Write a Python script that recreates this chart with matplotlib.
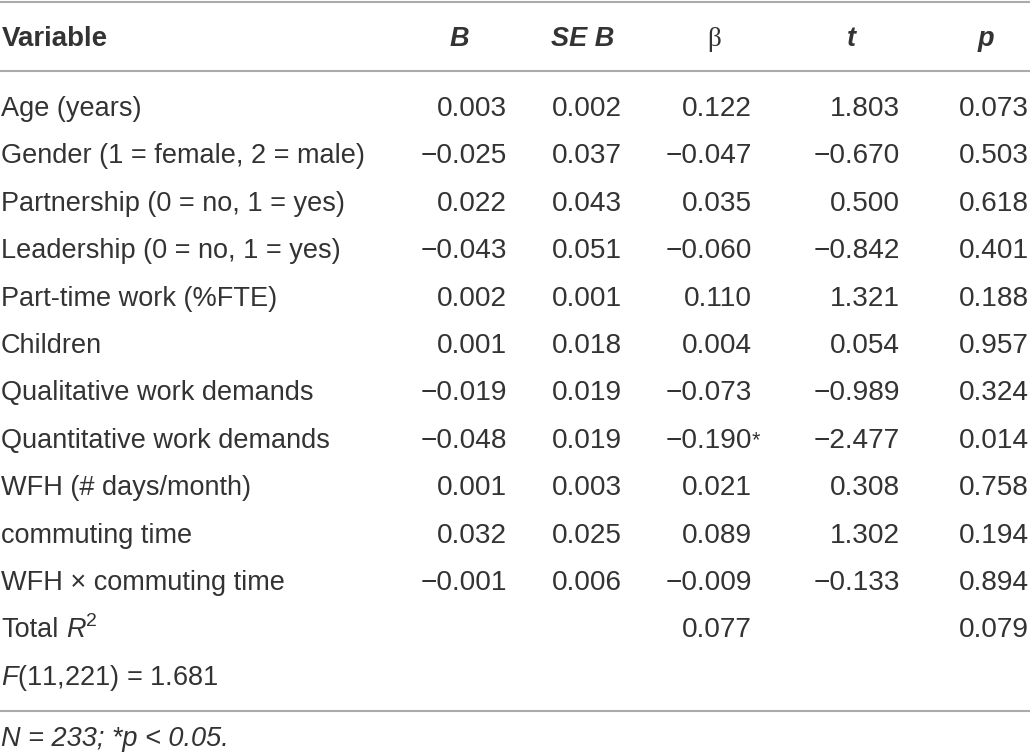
import matplotlib
matplotlib.use("Agg")
import matplotlib.pyplot as plt

plt.rcParams['font.family'] = ['Liberation Sans', 'DejaVu Sans']
plt.rcParams['mathtext.fontset'] = 'custom'
plt.rcParams['mathtext.rm'] = 'Liberation Sans'
plt.rcParams['mathtext.it'] = 'Liberation Sans:italic'
plt.rcParams['mathtext.bf'] = 'Liberation Sans:bold'

variables = ["Age (years)", "Gender (1 = female, 2 = male)", "Partnership (0 = no, 1 = yes)",
             "Leadership (0 = no, 1 = yes)", "Part-time work (%FTE)", "Children",
             "Qualitative work demands", "Quantitative work demands", "WFH (# days/month)",
             "commuting time", "WFH \u00d7 commuting time"]
B = ["0.003", "\u22120.025", "0.022", "\u22120.043", "0.002", "0.001", "\u22120.019", "\u22120.048", "0.001", "0.032", "\u22120.001"]
SEB = ["0.002", "0.037", "0.043", "0.051", "0.001", "0.018", "0.019", "0.019", "0.003", "0.025", "0.006"]
beta = ["0.122", "\u22120.047", "0.035", "\u22120.060", "0.110", "0.004", "\u22120.073", "\u22120.190*", "0.021", "0.089", "\u22120.009"]
tvals = ["1.803", "\u22120.670", "0.500", "\u22120.842", "1.321", "0.054", "\u22120.989", "\u22122.477", "0.308", "1.302", "\u22120.133"]
pvals = ["0.073", "0.503", "0.618", "0.401", "0.188", "0.957", "0.324", "0.014", "0.758", "0.194", "0.894"]
headers = ["Variable", "B", "SE B", "\u03b2", "t", "p"]
total_r2_beta = "0.077"
total_r2_p = "0.079"
f_stat = "$F$(11,221) = 1.681"
footnote = "N = 233; *p < 0.05."

W, H = 1030, 754
fig = plt.figure(figsize=(W / 100, H / 100), dpi=100)
ax = fig.add_axes([0, 0, 1, 1])
ax.set_xlim(0, W)
ax.set_ylim(H, 0)
ax.axis('off')

tc = '#333333'
fs = 19.5
fsn = 20.2
lc = '#ababab'

for yl in (2, 71, 711):
    ax.plot([0, W], [yl, yl], color=lc, lw=1.5, solid_capstyle='butt')

# header
hy = 46
ax.text(2, hy, headers[0], fontsize=fs + 0.5, fontweight='bold', color=tc, va='baseline', ha='left')
ax.text(459, hy, headers[1], fontsize=fs, fontweight='bold', fontstyle='italic', color=tc, va='baseline', ha='center')
ax.text(583, hy, headers[2], fontsize=fs, fontweight='bold', fontstyle='italic', color=tc, va='baseline', ha='center')
ax.text(714, hy, headers[3], fontsize=fs, color=tc, va='baseline', ha='center', family=['Liberation Serif', 'DejaVu Serif'])
ax.text(851, hy, headers[4], fontsize=fs, fontweight='bold', fontstyle='italic', color=tc, va='baseline', ha='center')
ax.text(986, hy, headers[5], fontsize=fs, fontweight='bold', fontstyle='italic', color=tc, va='baseline', ha='center')

col_right = [507, 622, 752, 900, 1029]
y0, step = 116, 47.4
for i, var in enumerate(variables):
    y = y0 + i * step
    ax.text(1, y, var, fontsize=fs, color=tc, va='baseline', ha='left')
    for xr, col in zip(col_right, (B, SEB, beta, tvals, pvals)):
        s = col[i]
        if s.endswith('*'):
            ax.text(xr, y, s[:-1], fontsize=fsn, color=tc, va='baseline', ha='right')
            ax.text(xr, y - 2, '*', fontsize=fs * 0.8, color=tc, va='baseline', ha='left')
        else:
            ax.text(xr, y, s, fontsize=fsn, color=tc, va='baseline', ha='right')

y = y0 + len(variables) * step
ax.text(1, y, "Total", fontsize=fs, color=tc, va='baseline', ha='left')
ax.text(66, y, "R", fontsize=fs, fontstyle='italic', color=tc, va='baseline', ha='left')
ax.text(86, y - 11, "2", fontsize=fs * 0.72, color=tc, va='baseline', ha='left')
ax.text(col_right[2], y, total_r2_beta, fontsize=fsn, color=tc, va='baseline', ha='right')
ax.text(col_right[4], y, total_r2_p, fontsize=fsn, color=tc, va='baseline', ha='right')
y += step
ax.text(1, y, f_stat, fontsize=fs, color=tc, va='baseline', ha='left')

ax.text(1, 746.5, footnote, fontsize=fs, fontstyle='italic', color=tc, va='baseline', ha='left')

fig.savefig("out.png", dpi=100)
